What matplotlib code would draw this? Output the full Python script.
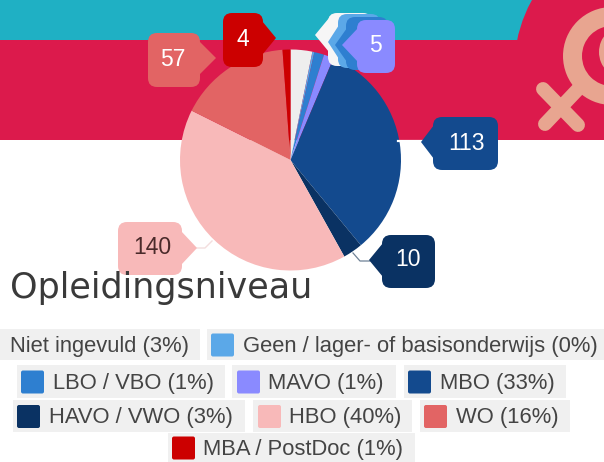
import matplotlib
matplotlib.use("Agg")
import matplotlib.pyplot as plt
from matplotlib.patches import FancyBboxPatch, Polygon, Circle, Rectangle, Wedge

categories = ["Niet ingevuld", "Geen / lager- of basisonderwijs", "LBO / VBO", "MAVO", "MBO",
              "HAVO / VWO", "HBO", "WO", "MBA / PostDoc"]
values = [11, 1, 5, 5, 113, 10, 140, 57, 4]
percent_labels = ["3%", "0%", "1%", "1%", "33%", "3%", "40%", "16%", "1%"]
colors = ["#eeeeee", "#5ba8e8", "#2e7fd0", "#8a8aff", "#134a8e", "#0a3263", "#f8b9b9", "#e26464", "#cc0000"]
title = "Opleidingsniveau"

W, H = 604, 462
TEAL, CRIMSON, SALMON = "#1fb0c4", "#dc1a4c", "#e8a590"

fig = plt.figure(figsize=(W / 100, H / 100), dpi=100, facecolor="white")
ax = fig.add_axes([0, 0, 1, 1])
ax.set_xlim(0, W)
ax.set_ylim(H, 0)
ax.axis("off")

# banner
ax.add_patch(Rectangle((0, 0), 560, 41, fc=TEAL, ec="none", zorder=1))
band = Rectangle((0, 40), W, 100, fc=CRIMSON, ec="none", zorder=1)
ax.add_patch(band)
blob = Circle((660, 70), 146, fc=CRIMSON, ec="none", zorder=1.1)
ax.add_patch(blob)
blob.set_clip_path(Rectangle((0, 0), W, 140, transform=ax.transData))
# venus symbol
ax.add_patch(Wedge((612, 56), 49, 0, 360, width=19, fc=SALMON, ec="none", zorder=1.2))
ax.add_patch(Wedge((626, 52), 27, 0, 360, width=10, fc=SALMON, ec="none", zorder=1.2))
ax.plot([582, 545], [85, 124], color=SALMON, lw=10, solid_capstyle="round", zorder=1.2)
ax.plot([543, 578], [89, 125], color=SALMON, lw=10, solid_capstyle="round", zorder=1.2)

# pie
cx, cy, r = 290.5, 160, 110.5
pie_ax = fig.add_axes([(cx - r) / W, 1 - (cy + r) / H, 2 * r / W, 2 * r / H], zorder=2)
pie_ax.pie(values, colors=colors, startangle=90, counterclock=False, radius=1,
           wedgeprops=dict(linewidth=0))
pie_ax.set_xlim(-1, 1)
pie_ax.set_ylim(-1, 1)
pie_ax.patch.set_alpha(0)

# callouts
overlay = fig.add_axes([0, 0, 1, 1], zorder=3)
overlay.set_xlim(0, W)
overlay.set_ylim(H, 0)
overlay.axis("off")
overlay.patch.set_alpha(0)


def callout(x0, y0, x1, y1, tip, color, text=None, tc="white", text_xy=None):
    overlay.add_patch(FancyBboxPatch((x0 + 8, y0 + 8), x1 - x0 - 16, y1 - y0 - 16,
                                     boxstyle="round,pad=8,rounding_size=9", fc=color, ec="none"))
    ym = min(max(tip[1], y0 + 18), y1 - 18)
    bx = x1 - 1 if tip[0] > x1 else x0 + 1
    overlay.add_patch(Polygon([(bx, ym - 17), tip, (bx, ym + 17)], closed=True, fc=color, ec="none"))
    if text is not None:
        tx, ty = text_xy if text_xy else ((x0 + x1) / 2, (y0 + y1) / 2)
        overlay.text(tx, ty, text, color=tc, ha="center", va="center",
                     fontsize=16.5, family="Liberation Sans")


# connectors
overlay.plot([398, 422], [141, 141], color="white", lw=1.6, zorder=1)
overlay.plot([353, 360, 370], [253, 261, 261], color="#6f8296", lw=0.9, zorder=1)
overlay.plot([197, 205, 212], [248, 248, 241], color="#f3dede", lw=1.0, zorder=1)

# stacked small-slice callouts, back to front
callout(328, 13, 372, 66, (315, 35), "#f6f6f6")
callout(338, 14, 380, 68, (328, 42), colors[1])
callout(346, 17, 388, 70, (335, 45), colors[2])
callout(357, 20, 395, 73, (342, 45), colors[3], str(values[3]), text_xy=(375, 45))
callout(148, 33, 200, 87, (216, 58), colors[7], str(values[7]), text_xy=(173, 59))
callout(223, 13, 263, 67, (276, 38), colors[8], str(values[8]), text_xy=(243, 39))
callout(433, 117, 498, 170, (421, 142), colors[4], str(values[4]), text_xy=(467, 143))
callout(382, 235, 435, 288, (369, 260), colors[5], str(values[5]), text_xy=(408, 260))
callout(118, 222, 182, 275, (197, 248), colors[6], str(values[6]), "#4a2a2a", text_xy=(152, 248))

# title
overlay.text(10, 288, title, fontsize=25.2, family="DejaVu Sans", color="#3a3a3a", ha="left", va="center")

# legend
rows = [
    (329, 360, [(0, 200, None, 10, 0), (207, 604, 211, 243, 1)]),
    (365, 398, [(17, 225, 21, 53, 2), (232, 396, 237, 268, 3), (404, 566, 408, 440, 4)]),
    (400, 432, [(13, 245, 17, 49, 5), (253, 412, 258, 289, 6), (420, 570, 424, 456, 7)]),
    (433, 462, [(168, 415, 172, 203, 8)]),
]
for y0, y1, items in rows:
    ym = (y0 + y1) / 2
    for bx0, bx1, sx, tx, i in items:
        overlay.add_patch(Rectangle((bx0, y0), bx1 - bx0, y1 - y0, fc="#f0f0f0", ec="none"))
        if sx is not None:
            overlay.add_patch(FancyBboxPatch((sx + 1, ym - 10), 21, 21, boxstyle="round,pad=1,rounding_size=2",
                                             fc=colors[i], ec="none"))
        overlay.text(tx, ym + 2, f"{categories[i]} ({percent_labels[i]})", fontsize=15.8, color="#444444",
                     family="Liberation Sans", ha="left", va="center")

fig.savefig("out.png", dpi=100)
